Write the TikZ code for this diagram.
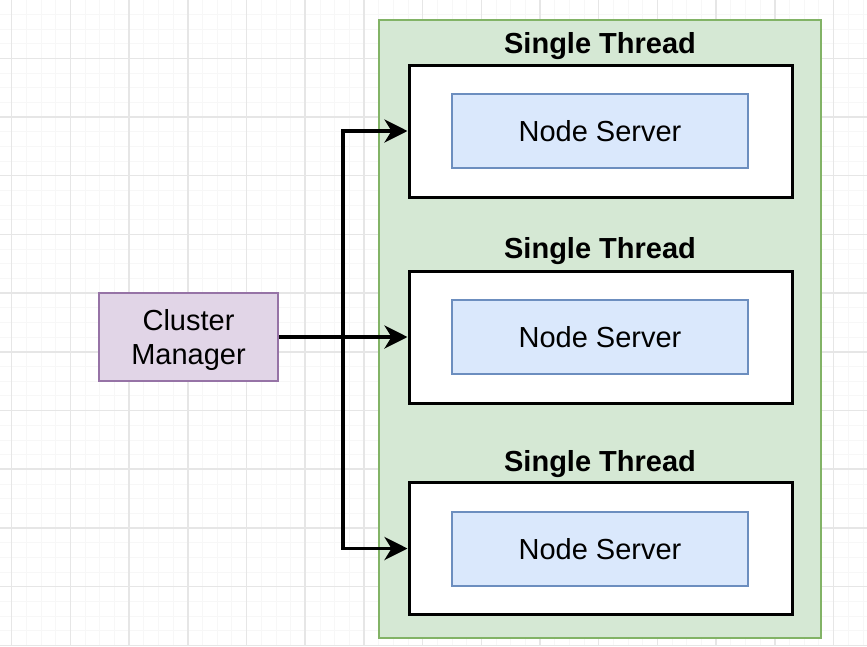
\documentclass[tikz,border=0pt]{standalone}
\usepackage{fontspec}
\setmainfont{Liberation Sans}
\usetikzlibrary{arrows.meta}
\definecolor{gridmajor}{HTML}{E6E6E6}
\definecolor{gridminor}{HTML}{F7F7F7}
\definecolor{grfill}{HTML}{D5E8D4}
\definecolor{grline}{HTML}{82B366}
\definecolor{blfill}{HTML}{DAE8FC}
\definecolor{blline}{HTML}{6C8EBF}
\definecolor{pufill}{HTML}{E1D5E7}
\definecolor{puline}{HTML}{9673A6}
\tikzset{
  container/.style={draw=grline, fill=grfill, line width=2.4pt, minimum width=442pt, minimum height=618pt, inner sep=0pt},
  threadbox/.style={draw=black, fill=white, line width=3pt, minimum width=383pt, minimum height=132pt, inner sep=0pt},
  serverbox/.style={draw=blline, fill=blfill, line width=2.2pt, minimum width=296pt, minimum height=74pt, inner sep=0pt, font=\fontsize{29}{34}\selectfont},
  managerbox/.style={draw=puline, fill=pufill, line width=2.4pt, minimum width=179pt, minimum height=88pt, inner sep=0pt, align=center, font=\fontsize{29}{34}\selectfont},
  titlelabel/.style={font=\fontsize{29}{34}\selectfont\bfseries, inner sep=0pt},
  arr/.style={line width=3.8pt, -{Stealth[length=23pt, width=23pt, inset=7pt]}},
}
\begin{document}
\begin{tikzpicture}[x=1pt, y=-1pt]
\useasboundingbox (0,0) rectangle (867,646);
\fill[white] (0,0) rectangle (867,646);
% grid
\foreach \i in {0,...,60} {
  \draw[gridminor, line width=0.7pt] ({11.7+14.675*(\i-1)},0) -- ({11.7+14.675*(\i-1)},646);
}
\foreach \i in {0,...,45} {
  \draw[gridminor, line width=0.7pt] (0,{-0.4+14.675*\i}) -- (867,{-0.4+14.675*\i});
}
\foreach \i in {0,...,15} {
  \draw[gridmajor, line width=1.5pt] ({11.7+58.7*\i},0) -- ({11.7+58.7*\i},646);
}
\foreach \i in {0,...,11} {
  \draw[gridmajor, line width=1.5pt] (0,{-0.4+58.7*\i}) -- (867,{-0.4+58.7*\i});
}
% container
\node[container] (cont) at (600,329) {};
% thread boxes
\node[titlelabel] (title1) at (600,46) {Single Thread};
\node[threadbox] (t1) at (600.5,131) {};
\node[serverbox] (s1) at (600,131) {Node Server};
\node[titlelabel] (title2) at (600,251) {Single Thread};
\node[threadbox] (t2) at (600.5,337) {};
\node[serverbox] (s2) at (600,337) {Node Server};
\node[titlelabel] (title3) at (600,464.5) {Single Thread};
\node[threadbox] (t3) at (600.5,548.5) {};
\node[serverbox] (s3) at (600,549) {Node Server};
% manager
\node[managerbox] (cm) at (188.5,337) {\rule{0pt}{27pt}Cluster\\Manager};
\coordinate (junc) at (343,337);
% connectors
\draw[arr] (cm.east) -- (t2.west);
\draw[arr] (cm.east) -- (junc) |- (t1.west);
\draw[arr] (cm.east) -- (junc) |- (t3.west);
\end{tikzpicture}
\end{document}
